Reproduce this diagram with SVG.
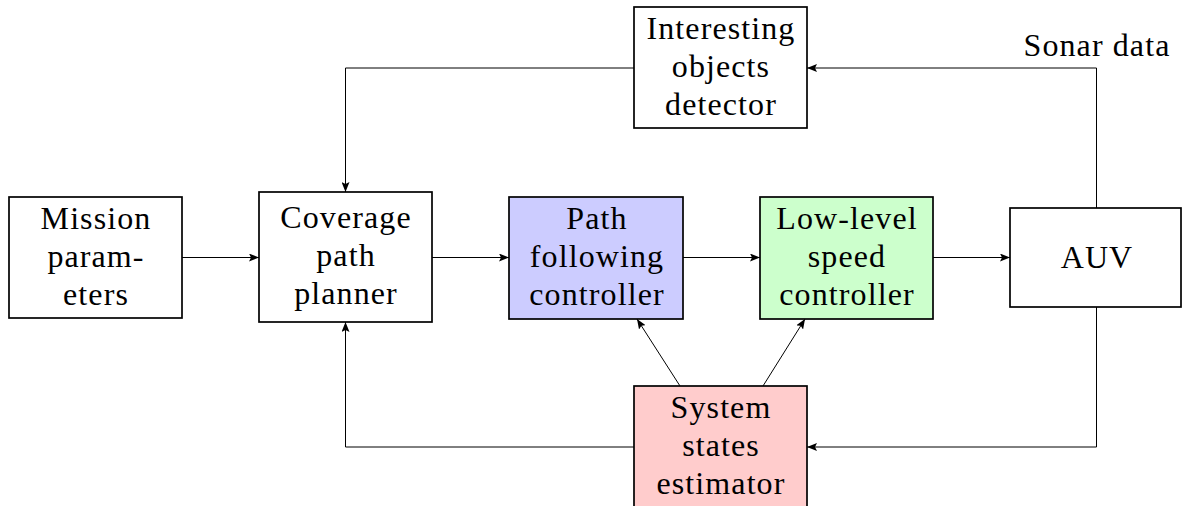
<svg xmlns="http://www.w3.org/2000/svg" width="1182" height="506" viewBox="0 0 1182 506">
<style>
.box{stroke:#000;stroke-width:1.7;fill:#fff}
.blue{fill:#ccccff}
.green{fill:#ccffcc}
.red{fill:#ffcccc}
text{font-family:"Liberation Serif","Times New Roman",serif;font-size:32px;fill:#000;text-anchor:middle;letter-spacing:1.1px}
.conn{fill:none;stroke:#000;stroke-width:1;marker-end:url(#ah)}
</style>
<defs>
<marker id="ah" viewBox="0 0 10 8" refX="10" refY="4" markerWidth="10" markerHeight="8" markerUnits="userSpaceOnUse" orient="auto">
<path d="M0,0 L10,4 L0,8 L2,4 Z" fill="#000"/>
</marker>
</defs>
<g id="connectors">
<path class="conn" d="M182,257.5 H259"/>
<path class="conn" d="M432,257.5 H509"/>
<path class="conn" d="M683,257.5 H760"/>
<path class="conn" d="M933,257.5 H1010"/>
<path class="conn" d="M1096.5,208 V68 H807"/>
<path class="conn" d="M634,68 H345.5 V192"/>
<path class="conn" d="M1096.5,307 V447 H807"/>
<path class="conn" d="M634,447 H345.5 V322"/>
<path class="conn" d="M680,386 L637,319"/>
<path class="conn" d="M763,386 L805,319"/>
</g>
<g id="mission">
<rect class="box" x="9" y="197" width="173" height="121"/>
<text x="96" y="229">Mission</text>
<text x="96" y="267">param-</text>
<text x="96" y="305">eters</text>
</g>
<g id="coverage">
<rect class="box" x="259" y="192" width="173" height="130"/>
<text x="346" y="228">Coverage</text>
<text x="346" y="266">path</text>
<text x="346" y="304">planner</text>
</g>
<g id="pathfollowing">
<rect class="box blue" x="509" y="197" width="174" height="122"/>
<text x="597" y="229">Path</text>
<text x="597" y="267">following</text>
<text x="597" y="305">controller</text>
</g>
<g id="lowlevel">
<rect class="box green" x="760" y="197" width="173" height="122"/>
<text x="847" y="229">Low-level</text>
<text x="847" y="267">speed</text>
<text x="847" y="305">controller</text>
</g>
<g id="auv">
<rect class="box" x="1010" y="208" width="171" height="99"/>
<text x="1097" y="268">AUV</text>
</g>
<g id="detector">
<rect class="box" x="634" y="7" width="173" height="121"/>
<text x="721" y="39">Interesting</text>
<text x="721" y="77">objects</text>
<text x="721" y="115">detector</text>
</g>
<g id="estimator">
<rect class="box red" x="634" y="386" width="173" height="122"/>
<text x="721" y="418">System</text>
<text x="721" y="456">states</text>
<text x="721" y="494">estimator</text>
</g>
<g id="sonar-label">
<text x="1097" y="56">Sonar data</text>
</g>
</svg>
